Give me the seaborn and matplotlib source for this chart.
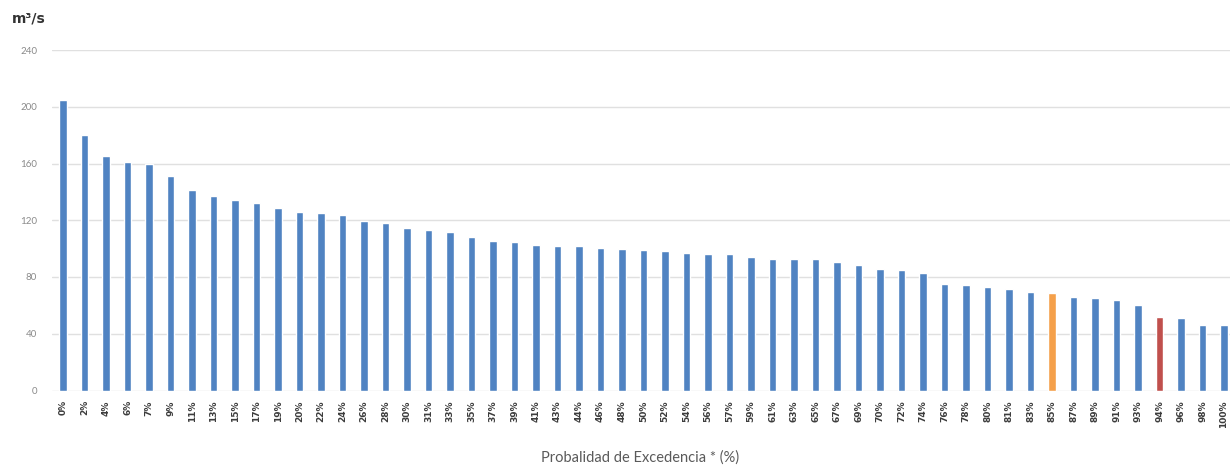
import matplotlib
matplotlib.use("Agg")
import matplotlib.pyplot as plt
import seaborn as sns
import numpy as np
import pandas as pd

# ---- data ----
labels = ["0%", "2%", "4%", "6%", "7%", "9%", "11%", "13%", "15%", "17%", "19%",
          "20%", "22%", "24%", "26%", "28%", "30%", "31%", "33%", "35%", "37%",
          "39%", "41%", "43%", "44%", "46%", "48%", "50%", "52%", "54%", "56%",
          "57%", "59%", "61%", "63%", "65%", "67%", "69%", "70%", "72%", "74%",
          "76%", "78%", "80%", "81%", "83%", "85%", "87%", "89%", "91%", "93%",
          "94%", "96%", "98%", "100%"]
values = [205, 180, 165, 161, 160, 151, 141, 137, 134.5, 132, 128.5,
          126, 125, 123.5, 119.5, 118, 114.5, 113, 112, 108, 105.5,
          104.5, 102.5, 102, 101.5, 100.4, 99.4, 99.3, 98.3, 97.2, 96.2,
          96, 94.2, 92.6, 92.6, 92.5, 90.4, 88.3, 85.8, 84.8, 83.1,
          75.3, 74.3, 73.2, 71.3, 69.7, 68.9, 66.1, 64.9, 63.7, 60.2,
          52, 51.3, 46.1, 46.1]
highlight_orange = "85%"
highlight_red = "94%"
yticks = [0, 40, 80, 120, 160, 200, 240]
unit_label = "m³/s"
x_title = "Probalidad de Excedencia * (%)"

# ---- style ----
blue = "#5083c2"
orange = "#f5a04a"
red = "#c0504d"
colors = [orange if l == highlight_orange else red if l == highlight_red else blue
          for l in labels]

sns.set_theme(style="white")
plt.rcParams["font.family"] = ["Lato", "DejaVu Sans"]

W, H = 1230, 470
fig = plt.figure(figsize=(W / 100, H / 100), dpi=100)
left_px, right_px = 52.3, 1234.75
top_px, bot_px = 50.0, 390.5
ax = fig.add_axes([left_px / W, 1 - bot_px / H,
                   (right_px - left_px) / W, (bot_px - top_px) / H])

df = pd.DataFrame({"label": labels, "value": values})
sns.barplot(data=df, x="label", y="value", hue="label", palette=colors,
            legend=False, width=0.36, ax=ax, saturation=1, zorder=3)

ax.set_xlim(-0.5, len(labels) - 0.5)
ax.set_ylim(0, 240)
ax.set_yticks(yticks)
ax.set_yticklabels([str(t) for t in yticks], fontsize=7, color="#8a8a8a")
ax.tick_params(axis="y", length=0, pad=11)
ax.tick_params(axis="x", length=0, pad=7)
for t in ax.get_xticklabels():
    t.set_rotation(90)
    t.set_fontsize(6.5)
    t.set_fontweight("bold")
    t.set_family(["DejaVu Sans"])
    t.set_color("#3c3c3c")
ax.grid(axis="y", color="#e0e0e0", linewidth=1, zorder=0)
ax.grid(axis="x", visible=False)
for s in ax.spines.values():
    s.set_visible(False)
ax.set_xlabel("")
ax.set_ylabel("")

fig.text(12 / W, 1 - 19 / H, unit_label, fontsize=10, fontweight="bold",
         color="#333333", ha="left", va="center", family=["DejaVu Sans"])
fig.text(640 / W, 1 - 458 / H, x_title, fontsize=10.5, color="#5a5a5a",
         ha="center", va="center")

fig.savefig("out.png", dpi=100)
